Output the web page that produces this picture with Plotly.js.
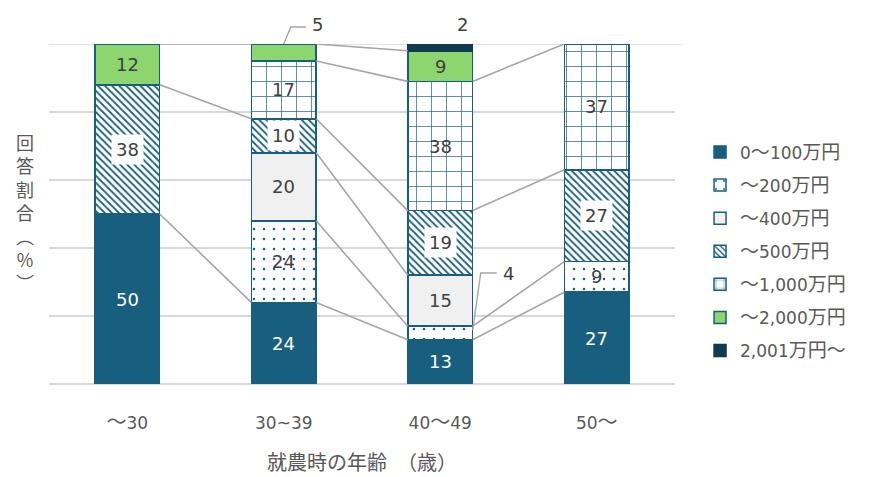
<!DOCTYPE html>
<html><head><meta charset="utf-8">
<script src="https://cdn.plot.ly/plotly-3.0.1.min.js"></script>
<style>
html,body{margin:0;padding:0;background:#fff}
#chart{width:871px;height:477px}
</style>
</head><body><div id="chart"></div>
<script>
// ---- data ----
const categories = ['～30', '30~39', '40～49', '50～'];
const seriesNames = ['0～100万円', '～200万円', '～400万円', '～500万円', '～1,000万円', '～2,000万円', '2,001万円～'];
const v0_100  = [50, 24, 13, 27];
const v200    = [null, 24, 4, 9];
const v400    = [null, 20, 15, null];
const v500    = [38, 10, 19, 27];
const v1000   = [null, 17, 38, 37];
const v2000   = [12, 5, 9, null];
const v2001   = [null, null, 2, null];
const seriesValues = [v0_100, v200, v400, v500, v1000, v2000, v2001];
const xTitle = '就農時の年齢　（歳）';
const yTitleChars = ['回', '答', '割', '合', '︵', '%', '︶'];

// ---- styles ----
const BLUE = '#175e7f', NAVY = '#0f3b51', GREEN = '#8dd66f', LGRAY = '#f0f0f0';
const TXT = '#595959', LBL = '#404040', GRID = '#d9d9d9', SLINE = '#a6a6a6';
const FONT = '"DejaVu Sans", "Noto Sans CJK JP", sans-serif';
const CJK = '"Noto Sans CJK JP", sans-serif';
const BAR_W = 0.415;
const X_RANGE = [-0.5, categories.length - 0.5];
const Y_RANGE = [0, 100];
const styles = [
  {color: BLUE, line: BLUE},
  {color: BLUE, line: BLUE, pattern: {shape: '.', fgcolor: BLUE, bgcolor: '#ffffff', size: 10, solidity: 0.05}},
  {color: LGRAY, line: BLUE},
  {color: BLUE, line: BLUE, pattern: {shape: '\\', fgcolor: BLUE, bgcolor: '#ffffff', size: 5, solidity: 0.35}},
  {color: BLUE, line: BLUE, pattern: {shape: '+', fgcolor: BLUE, bgcolor: '#ffffff', size: 15, solidity: 0.09}},
  {color: GREEN, line: BLUE},
  {color: NAVY, line: NAVY}
];
const labelColor = ['#ffffff', LBL, LBL, LBL, LBL, LBL, LBL];
const labelBox = [null, null, null, '#ffffff', null, null, null];
// callouts for small segments: anchor at top or mid; pixel offsets
const callouts = {
  '5,1': {at: 'top', dx: 0, tx: 34, ty: 20, path: 'M0,0L7,17L22,17'},
  '6,2': {at: 'top', dx: 0, tx: 22, ty: 20, path: null},
  '1,2': {at: 'mid', dx: BAR_W / 2, tx: 36, ty: 60, path: 'M0,3L8,60L24,60'}
};
// enlarge full-width (CJK) glyph runs a little, as in the reference
const widenCJK = (s, px) => s.replace(/([^\x00-\x7F]+)/g, '<span style="font-size:' + px + 'px">$1</span>');

const xIdx = categories.map((c, i) => i);
const toPaperX = x => (x - X_RANGE[0]) / (X_RANGE[1] - X_RANGE[0]);
const toPaperY = y => (y - Y_RANGE[0]) / (Y_RANGE[1] - Y_RANGE[0]);

// cumulative bases/tops
const bases = [], tops = [];
let running = categories.map(() => 0);
seriesValues.forEach((vals) => {
  bases.push(running.slice());
  running = running.map((r, i) => r + (vals[i] == null ? 0 : vals[i]));
  tops.push(running.slice());
});

const traces = [];
seriesValues.forEach((vals, k) => {
  const st = styles[k];
  const marker = {color: st.color, line: {color: st.line, width: 1.5}};
  if (st.pattern) marker.pattern = Object.assign({fillmode: 'replace'}, st.pattern);
  traces.push({
    type: 'bar', name: widenCJK(seriesNames[k], 19), x: xIdx, y: vals, width: BAR_W,
    marker: marker, legendgroup: 'g' + k, hoverinfo: 'skip'
  });
});

// series lines (connect segment tops between neighbouring bars)
seriesValues.forEach((vals, k) => {
  const xs = [], ys = [];
  for (let i = 0; i < categories.length - 1; i++) {
    if (vals[i] != null && vals[i + 1] != null) {
      xs.push(i + BAR_W / 2, i + 1 - BAR_W / 2, null);
      ys.push(tops[k][i], tops[k][i + 1], null);
    }
  }
  traces.push({
    type: 'scatter', mode: 'lines', x: xs, y: ys, showlegend: false, hoverinfo: 'skip',
    line: {color: SLINE, width: 1.6}, legendgroup: 'g' + k
  });
});

const annotations = [], shapes = [];
// top gridline (edge gridline is not drawn by the axis)
shapes.push({type: 'line', xref: 'paper', yref: 'y', x0: 0, x1: 1.01, y0: Y_RANGE[1], y1: Y_RANGE[1],
  line: {color: GRID, width: 1.5}, layer: 'below'});

seriesValues.forEach((vals, k) => {
  vals.forEach((v, i) => {
    if (v == null) return;
    const co = callouts[k + ',' + i];
    if (co) {
      const ay = co.at === 'top' ? tops[k][i] : bases[k][i] + v / 2;
      const ax = i + co.dx;
      annotations.push({x: ax, y: ay, xref: 'x', yref: 'y', text: String(v), showarrow: false,
        xshift: co.tx, yshift: co.ty, font: {family: FONT, size: 18, color: LBL}});
      if (co.path) {
        shapes.push({type: 'path', xref: 'paper', yref: 'paper', xsizemode: 'pixel', ysizemode: 'pixel',
          xanchor: toPaperX(ax), yanchor: toPaperY(ay), path: co.path, line: {color: SLINE, width: 1.4}});
      }
      return;
    }
    const a = {x: i, y: bases[k][i] + v / 2, xref: 'x', yref: 'y', text: String(v), showarrow: false,
      font: {family: FONT, size: 18, color: labelColor[k]}};
    if (labelBox[k]) { a.bgcolor = labelBox[k]; a.borderpad = 4; }
    annotations.push(a);
  });
});

// y-axis title written vertically
annotations.push({
  xref: 'paper', yref: 'paper', x: -0.038, y: 0.505, xanchor: 'center', yanchor: 'middle',
  text: yTitleChars.join('<br>'), showarrow: false,
  font: {family: CJK, size: 18, color: TXT}
});
// x-axis title
annotations.push({
  xref: 'paper', yref: 'paper', x: 0.5, y: -0.228, xanchor: 'center', yanchor: 'middle',
  text: xTitle, showarrow: false, borderpad: 0, font: {family: CJK, size: 20, color: TXT}
});

const layout = {
  width: 871, height: 477,
  margin: {l: 49, r: 196, t: 44, b: 93},
  paper_bgcolor: '#ffffff', plot_bgcolor: '#ffffff',
  barmode: 'stack',
  showlegend: true,
  font: {family: FONT, color: TXT, size: 16},
  xaxis: {
    range: X_RANGE, tickvals: xIdx, ticktext: categories.map(c => widenCJK(c, 20)),
    showgrid: false, zeroline: false, showline: false,
    ticks: 'outside', ticklen: 24, tickcolor: 'rgba(0,0,0,0)',
    tickfont: {family: FONT, size: 17, color: TXT},
    fixedrange: true
  },
  yaxis: {
    range: Y_RANGE, dtick: 20, tick0: 0, showticklabels: false,
    showgrid: true, gridcolor: GRID, gridwidth: 1.5,
    zeroline: true, zerolinecolor: GRID, zerolinewidth: 1.5, showline: false,
    fixedrange: true
  },
  legend: {
    x: 1.04, xanchor: 'left', y: 0.39, yanchor: 'middle',
    traceorder: 'grouped', tracegroupgap: 8,
    font: {family: FONT, size: 17, color: TXT}, bgcolor: 'rgba(0,0,0,0)'
  },
  annotations: annotations,
  shapes: shapes
};

Plotly.newPlot('chart', traces, layout, {displayModeBar: false, staticPlot: true});
</script>
</body></html>
